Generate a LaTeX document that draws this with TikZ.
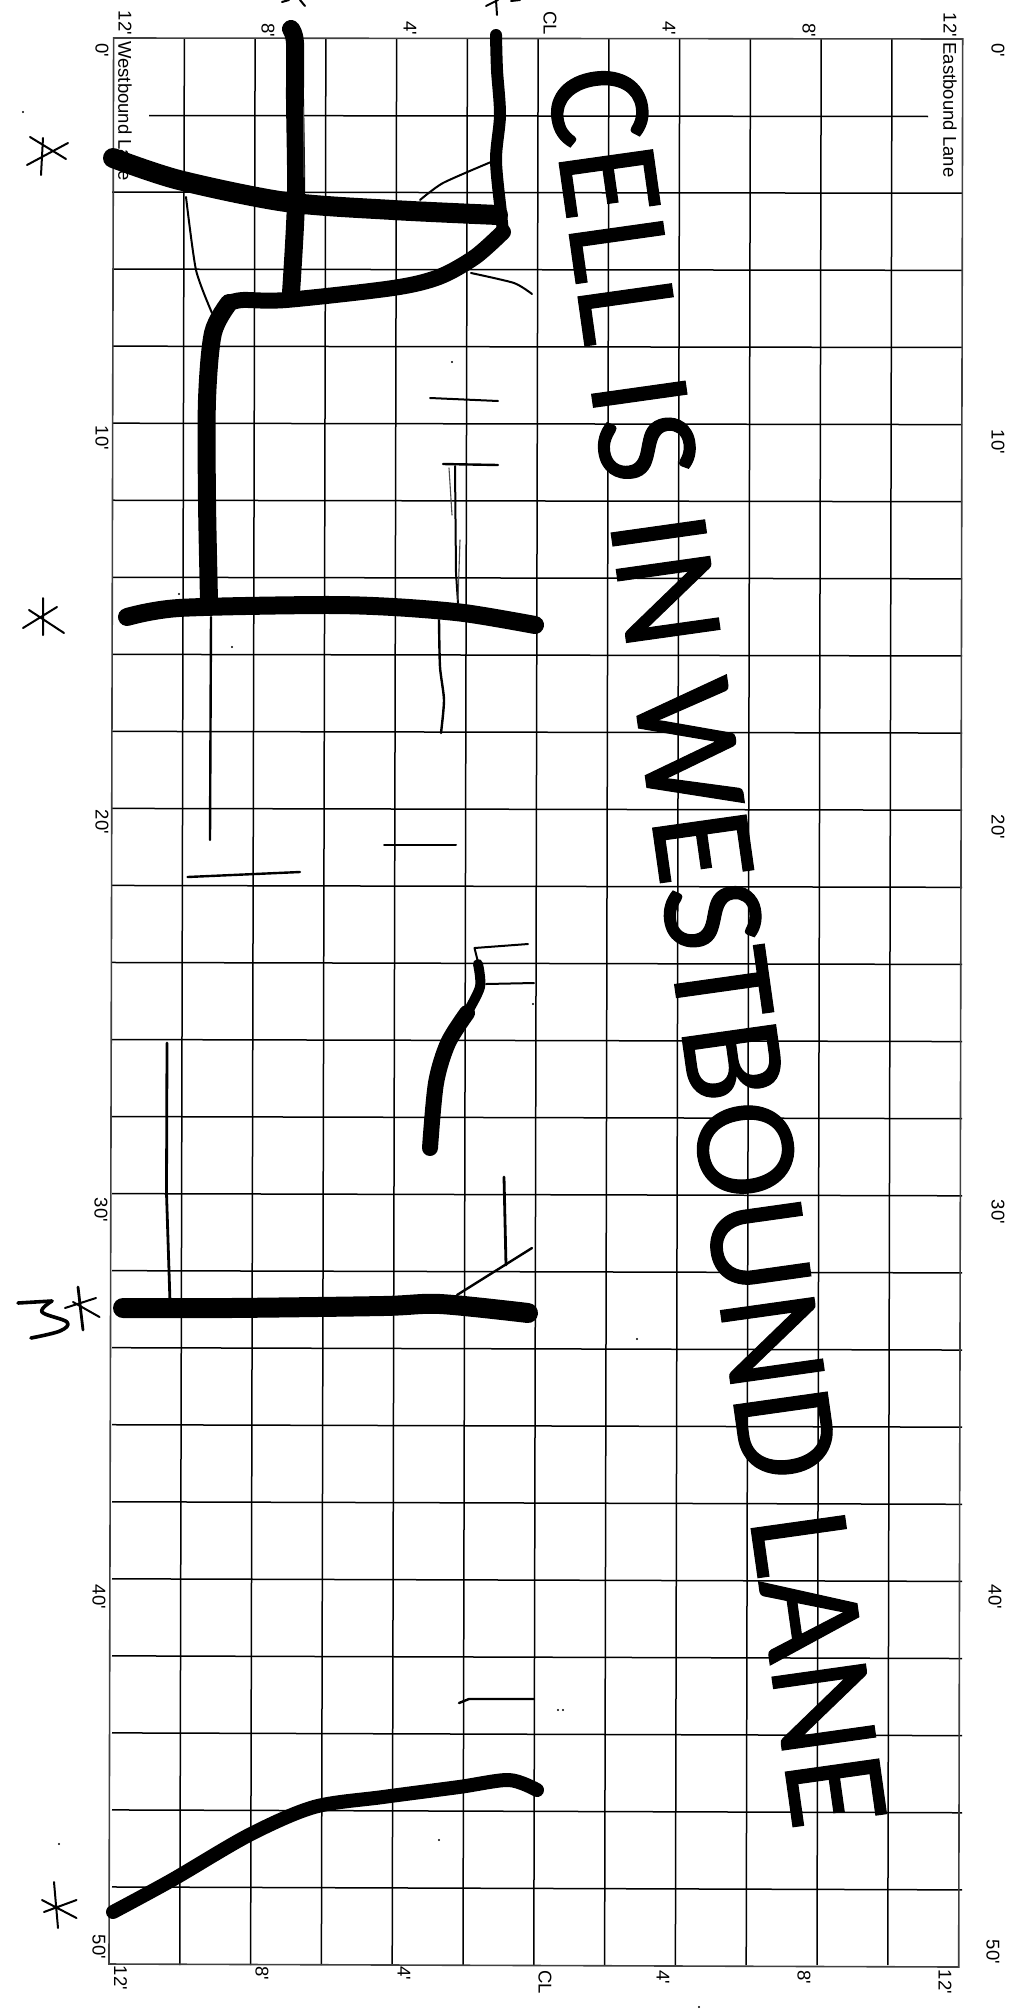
\documentclass[tikz,border=0pt]{standalone}
\usepackage{fontspec}
\setmainfont{Liberation Sans}
\newfontfamily\labfont{Liberation Sans}
\newfontfamily\bigfont[LetterSpace=0.8,FakeBold=0.8]{Carlito}
\tikzset{
  gridline/.style={black,line width=1.5pt},
  gridedge/.style={black!75,line width=1.6pt},
  lab/.style={font=\labfont\fontsize{18.5}{18.5}\selectfont,rotate=-90,inner sep=0pt,black},
  bigtext/.style={font=\bigfont\fontsize{147}{147}\selectfont,rotate=-82,inner sep=0pt,black},
  ink/.style={black,line cap=round,line join=round},
  fat/.style={ink,line width=18pt},
  mid/.style={ink,line width=13pt},
  slim/.style={ink,line width=2.4pt},
  hair/.style={ink,line width=1.1pt,black!70},
  pen/.style={ink,line width=2pt},
}
\begin{document}
\begin{tikzpicture}[x=1pt,y=-1pt]
\useasboundingbox (0,0) rectangle (1026,2010);
\fill[white] (0,0) rectangle (1026,2010);
\clip (0,0) rectangle (1026,2010);
% grid
\foreach \u in {1,...,11}{
  \pgfmathsetmacro{\xt}{113.6+\u*70.76}
  \pgfmathsetmacro{\xb}{109+\u*70.8}
  \draw[gridline] (\xt,38.5) -- (\xb,1965);
}
\foreach \v in {2,...,24}{
  \pgfmathsetmacro{\yl}{38+\v*77.04}
  \pgfmathsetmacro{\yr}{39+\v*77.12}
  \draw[gridline] (112,\yl) -- (962,\yr);
}
\draw[gridline] (149,115.5) -- (928,116.5);
\draw[gridedge] (113.6,38) -- (962.7,39) -- (958.7,1967) -- (109,1964) -- cycle;
% axis labels
\node[lab] (wb) at (125,111) {Westbound Lane};
\node[lab] (eb) at (950,110) {Eastbound Lane};
\node[lab] (t1) at (125,23) {12'};
\node[lab] (t2) at (268,30) {8'};
\node[lab] (t3) at (410,28) {4'};
\node[lab] (t4) at (550,23) {CL};
\node[lab] (t5) at (669,28) {4'};
\node[lab] (t6) at (809,30) {8'};
\node[lab] (t7) at (950,25) {12'};
\node[lab] (b1) at (120.5,1978) {12'};
\node[lab] (b2) at (262,1973) {8'};
\node[lab] (b3) at (404,1973) {4'};
\node[lab] (b4) at (545,1982) {CL};
\node[lab] (b5) at (663,1977) {4'};
\node[lab] (b6) at (804,1977) {8'};
\node[lab] (b7) at (945,1982) {12'};
\node[lab] (l0) at (102,50) {0'};
\node[lab] (l1) at (102,438) {10'};
\node[lab] (l2) at (102,822) {20'};
\node[lab] (l3) at (101,1210) {30'};
\node[lab] (l4) at (99,1597) {40'};
\node[lab] (l5) at (99,1947) {50'};
\node[lab] (r0) at (998,50) {0'};
\node[lab] (r1) at (998,442) {10'};
\node[lab] (r2) at (998,827) {20'};
\node[lab] (r3) at (998,1212) {30'};
\node[lab] (r4) at (995,1597) {40'};
\node[lab] (r5) at (993,1952) {50'};
% big slanted text
\node[bigtext] (cell) at (717,947) {CELL IS IN WESTBOUND LANE};
% heavy strokes
\draw[fat] plot[smooth,tension=.5] coordinates {(291,29) (295,43) (295,100) (296,200) (291,293)};
\draw[fat,line width=20pt] plot[smooth,tension=.5] coordinates {(113,158) (179,180) (286,202) (393,210) (498,215)};
\draw[mid,line width=12pt] plot[smooth,tension=.5] coordinates {(496,35) (497,70) (500,115) (496,160) (501,213) (503,232)};
\draw[mid,line width=16pt] plot[smooth,tension=.5] coordinates {(503,232) (475,257) (439,277) (393,288) (286,300) (243,300) (229,303)};
\draw[fat] plot[smooth,tension=.5] coordinates {(229,303) (213,333) (207,400) (207,500) (209,600)};
\draw[fat] plot[smooth,tension=.5] coordinates {(127,617) (179,608) (321,605) (393,607) (464,613) (535,625)};
\draw[mid,line width=10pt] plot[smooth,tension=.5] coordinates {(478,964) (480,987) (467,1013)};
\draw[mid,line width=16pt] plot[smooth,tension=.5] coordinates {(467,1013) (448,1043) (436,1083) (430,1148)};
\draw[fat,line width=20pt] plot[smooth,tension=.5] coordinates {(123,1308) (230,1308) (383,1306) (440,1304) (528,1313)};
\draw[mid,line width=14pt] plot[smooth,tension=.5] coordinates {(113,1912) (172,1880) (249,1835) (314,1807) (383,1797) (459,1787) (509,1780) (537,1790)};
% thin pencil lines
\draw[pen] plot[smooth,tension=.4] coordinates {(491,162) (443,183) (420,200)};
\draw[pen] plot[smooth,tension=.4] coordinates {(471,273) (514,283) (532,294)};
\draw[pen] plot[smooth,tension=.4] coordinates {(186,197) (196,270) (212,313)};
\draw[hair] (303.6,107) -- (304,177);
\draw[pen] (430,398) -- (498,401);
\draw[slim] (443,464) -- (498,465);
\draw[pen] (455,466) -- (456,573) -- (458,603);
\draw[hair] (449,468) -- (452,515);
\draw[hair] (460,540) -- (458,600);
\draw[slim] plot[smooth,tension=.4] coordinates {(439,620) (440,667) (444,700) (441,733)};
\draw[slim] (211,617) -- (210,840);
\draw[pen] (384,845) -- (456,845);
\draw[slim] (187.5,877) -- (300,872);
\draw[pen] (528,944) -- (474.5,948) -- (478,962);
\draw[pen] (486,984) -- (534,983);
\draw[slim,line width=2.8pt] (167,1043) -- (166.5,1193) -- (170,1302);
\draw[slim,line width=2.8pt] (504,1177) -- (506,1265);
\draw[slim] (532,1248) -- (457,1295);
\draw[slim] (459,1703) -- (469,1699) -- (534,1699);
% hand-drawn asterisks
\draw[pen] (30,137) -- (66,159) (27,165) -- (68,143) (43,138) -- (41,175);
\draw[pen] (43,598) -- (43,635) (23,628) -- (57,607) (29,610) -- (64,633);
\draw[slim,line width=2.8pt] (78,1287) -- (83,1330);
\draw[pen] (65,1308) -- (96,1298) (73,1302) -- (99.5,1317);
\draw[ink,line width=3.6pt] (18,1303) -- (52,1301);
\draw[ink,line width=3.6pt] plot[smooth,tension=.6] coordinates {(52,1301) (42,1312) (67,1322) (60,1331) (31,1338)};
\draw[pen] (54,1882) -- (58,1928) (44,1912) -- (76.5,1900) (42,1900) -- (76.5,1918);
\draw[pen] (282,2) -- (289,0) (300,0) -- (305,6);
\draw[pen] (486,6) -- (498,0) (496,0) -- (497,15) (511,1) -- (520,0);
% specks
\foreach \p in {(23,112),(179,594),(232,647),(452,362),(439,1840),(59,1844),(533,1004),(637,1339),(699,2007),(558,1710),(563,1710)}
  \fill[black] \p circle (1.2pt);
\end{tikzpicture}
\end{document}
